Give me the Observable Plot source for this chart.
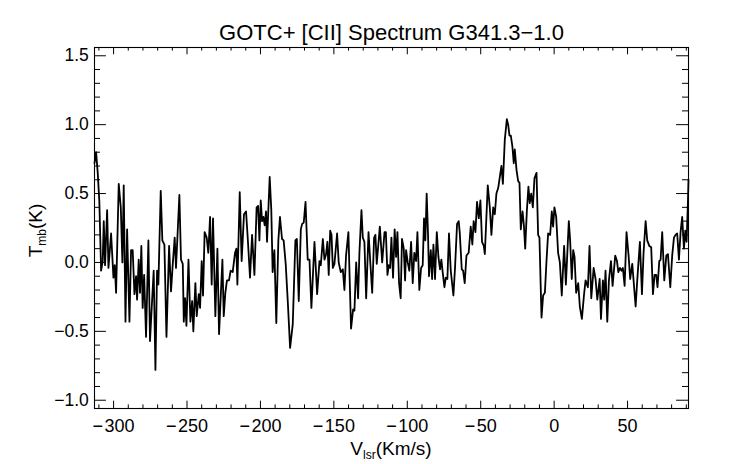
<!DOCTYPE html>
<html><head><meta charset="utf-8">
<script src="https://cdn.jsdelivr.net/npm/d3@7"></script>
<script src="https://cdn.jsdelivr.net/npm/@observablehq/plot@0.6"></script>
<style>body{margin:0;background:#fff}</style>
</head><body><div id="chart"></div>
<script>
const title = "GOTC+ [CII] Spectrum G341.3\u22121.0";

const velocity = [
-313.0,-311.9,-310.8,-309.7,-308.5,-307.4,-306.7,-305.8,-304.4,-303.5,-301.7,-300.1,-299.2,-298.3,-296.5,-295.1,-294.0,-293.1,-291.9,-290.8,
-289.2,-288.1,-287.0,-285.8,-284.7,-284.0,-282.9,-282.0,-281.1,-280.2,-279.2,-277.9,-276.3,-275.2,-273.8,-272.7,-271.5,-270.4,-269.5,-267.9,
-266.8,-265.4,-264.0,-262.2,-260.9,-259.7,-258.4,-257.5,-255.2,-254.1,-252.9,-252.2,-251.3,-250.4,-249.0,-247.7,-246.5,
-245.7,-244.3,-243.4,-242.0,-241.1,-240.0,-239.1,-238.0,-236.6,-235.5,-234.3,-233.2,-232.3,-230.7,-229.3,-228.2,-225.9,-225.0,-223.9,-222.8,
-221.4,-220.3,-218.9,-217.3,-216.4,-215.7,-214.1,-212.8,-211.2,-209.8,-208.5,-207.1,-205.7,-204.1,-202.6,-201.6,-200.7,-199.8,-198.9,-198.0,
-197.1,-196.2,-195.5,-193.7,-192.6,-191.7,-190.5,-189.2,-187.8,-186.7,-185.3,-184.2,-182.8,-181.4,-179.8,
-178.0,-176.2,-175.2,-173.9,-172.5,-171.6,-170.5,-169.3,-167.8,-166.6,-165.3,-163.2,-161.4,-159.8,-158.9,-157.5,-156.4,-155.3,-154.4,-153.5,
-152.5,-151.6,-150.7,-149.6,-147.8,-146.7,-145.3,-143.9,-142.8,-141.7,-140.1,-138.3,-136.9,-136.0,-134.8,-133.5,-132.6,-131.2,-130.3,-129.2,
-128.0,-126.4,-125.3,-123.9,-122.6,-121.7,-120.8,-118.7,-117.1,-115.5,-114.6,-113.5,
-112.6,-111.7,-110.8,-109.7,-108.6,-107.6,-106.7,-105.6,-104.5,-103.6,-102.4,-101.5,-100.8,-99.7,-98.6,-97.4,-96.3,-95.2,-94.0,-93.1,
-91.8,-90.6,-89.5,-88.6,-87.7,-86.8,-85.9,-85.2,-84.0,-83.1,-82.2,-81.1,-79.9,-78.8,-77.7,-76.8,-75.9,-74.7,-73.8,-72.7,
-71.6,-70.4,-68.6,-67.5,-66.1,-65.0,-64.3,-62.9,-62.0,-60.9,-59.7,-58.2,-56.8,-55.7,-54.8,-53.6,-52.5,-51.3,-50.2,-49.1,-47.9,-47.2,
-45.2,-43.8,-42.7,-41.5,-40.4,-39.3,-38.1,-37.0,-35.9,-34.9,-33.6,-32.2,-31.3,-30.4,-29.5,-28.4,-27.5,-26.8,-25.6,-24.5,
-23.6,-22.7,-21.5,-20.6,-19.7,-18.6,-17.5,-16.6,-15.6,-14.5,-13.4,-12.0,-10.9,-10.0,-8.6,-7.5,-6.3,-5.2,-4.1,-2.7,
-1.6,-0.7,0.2,1.4,2.7,3.9,5.2,6.8,8.0,10.0,10.9,12.0,13.0,13.9,15.0,16.4,17.5,18.9,
20.3,21.4,23.0,24.1,25.3,26.9,28.2,29.4,31.0,31.9,33.2,34.1,35.0,36.2,37.3,38.7,39.8,41.6,42.8,43.7,
44.8,45.9,46.8,48.0,49.3,50.7,51.8,53.2,54.1,55.5,56.6,58.4,59.8,60.9,62.3,63.4,64.8,66.1,67.3,68.4,
69.5,70.4,71.6,72.5,73.6,75.0,76.4,77.5,79.1,80.4,81.6,82.7,83.8,85.0,86.1,87.2,88.4,89.3,90.2,91.0,91.5
];

const tmb = [
0.72,0.80,0.65,0.44,-0.06,0.01,0.30,-0.02,0.38,-0.04,0.21,-0.11,-0.02,-0.22,0.57,0.40,0.00,0.56,-0.43,0.24,
-0.43,0.09,0.09,-0.23,-0.10,-0.27,0.02,-0.22,0.12,-0.33,-0.09,-0.54,0.16,-0.57,-0.28,-0.06,-0.78,-0.06,-0.16,0.52,
0.16,0.13,-0.54,0.12,-0.21,-0.01,0.18,-0.04,0.49,0.02,-0.01,-0.43,-0.26,-0.46,0.02,-0.43,-0.28,
-0.50,-0.15,-0.39,-0.23,-0.33,0.01,-0.24,0.22,0.18,0.07,0.33,-0.16,0.32,-0.39,0.10,-0.52,0.02,-0.39,-0.22,-0.13,
-0.13,-0.06,-0.07,0.07,0.10,-0.16,0.51,0.01,0.35,0.37,0.15,-0.11,0.20,-0.09,0.40,0.41,0.16,0.45,0.30,0.33,
0.27,0.37,0.15,0.62,0.38,-0.07,0.09,-0.44,0.16,0.33,0.17,0.16,-0.01,-0.28,-0.62,
-0.45,0.16,0.17,-0.28,0.24,0.28,0.29,0.44,0.02,0.02,-0.33,0.15,-0.23,0.01,-0.02,0.17,0.02,0.06,0.15,-0.09,
0.23,0.20,-0.04,-0.01,0.21,0.00,-0.07,-0.05,-0.20,0.05,0.22,-0.48,-0.34,-0.35,0.00,-0.26,0.07,0.38,0.18,0.15,
-0.26,0.22,0.02,-0.22,0.18,0.20,-0.01,0.26,0.00,0.22,0.22,-0.09,
-0.02,-0.04,0.18,-0.11,0.24,0.04,0.22,-0.15,-0.26,0.17,0.10,-0.13,0.09,0.00,-0.06,0.15,-0.15,0.07,0.01,0.22,
-0.20,-0.04,-0.02,0.32,0.16,0.50,0.21,-0.10,0.09,-0.12,0.13,-0.12,0.22,0.04,-0.05,0.02,-0.07,-0.18,-0.11,-0.12,
0.21,-0.06,-0.24,-0.04,0.28,0.30,0.22,-0.05,-0.06,-0.15,0.05,0.07,0.26,0.13,0.30,0.22,0.44,0.32,0.45,0.15,0.12,0.06,
0.56,0.40,0.20,0.40,0.35,0.50,0.54,0.62,0.70,0.57,0.89,1.04,1.00,0.92,0.92,0.84,0.72,0.82,0.67,0.59,
0.58,0.24,0.37,0.27,0.10,0.37,0.55,0.43,0.50,0.40,0.61,0.65,0.20,0.18,-0.40,-0.24,-0.22,0.01,0.21,0.20,
0.37,0.26,0.40,0.33,0.07,0.00,-0.24,0.12,-0.16,0.30,0.16,-0.12,0.09,0.04,-0.22,-0.15,-0.32,-0.41,
-0.24,-0.13,-0.18,0.12,-0.26,-0.04,-0.12,-0.27,-0.12,-0.41,-0.13,-0.27,-0.06,-0.43,-0.13,0.01,-0.17,0.05,0.01,-0.07,
-0.04,-0.06,-0.04,-0.17,0.22,0.05,-0.12,-0.01,-0.13,-0.32,-0.13,0.15,-0.23,0.07,0.30,0.16,0.12,0.11,-0.23,-0.09,
-0.09,-0.18,0.01,0.02,0.22,-0.13,0.05,0.06,-0.18,0.05,0.18,0.20,0.21,0.02,0.22,0.33,0.10,0.23,0.15,0.40,0.60
];

const xTicks = [-300,-250,-200,-150,-100,-50,0,50];
const xMinorTicks = [-310,-290,-280,-270,-260,-240,-230,-220,-210,-190,-180,-170,-160,-140,-130,-120,-110,-90,-80,-70,-60,-40,-30,-20,-10,10,20,30,40,60,70,80,90];
const yTicks = [-1.0,-0.5,0.0,0.5,1.0,1.5];
const yMinorTicks = [-0.9,-0.8,-0.7,-0.6,-0.4,-0.3,-0.2,-0.1,0.1,0.2,0.3,0.4,0.6,0.7,0.8,0.9,1.1,1.2,1.3,1.4];

const data = velocity.map((v, i) => ({v, t: tmb[i]}));
const fmtX = d => String(d).replace("-", "\u2212\u200A");
const fmtY = d => d.toFixed(1).replace("-", "\u2212");

const W = 742, H = 464, ML = 94, MR = 54, MT = 47, MB = 56;
const FW = W - ML - MR, FH = H - MT - MB;
const xMaj = 7.3, xMin = 3.6, yMaj = 11.9, yMin = 6;
const tickStyle = {stroke: "black", strokeWidth: 1};

const chart = Plot.plot({
  width: W, height: H,
  marginLeft: ML, marginRight: MR, marginTop: MT, marginBottom: MB,
  style: {fontFamily: "'Liberation Sans', Arial, sans-serif", fontSize: "17.5px", background: "white", color: "black"},
  x: {domain: [-313, 91.5], label: null},
  y: {domain: [-1.06, 1.56], label: null},
  marks: [
    Plot.axisX(xTicks, {anchor: "bottom", tickSize: 0, tickPadding: 11, tickFormat: fmtX, fontSize: 18, label: null}),
    Plot.axisY(yTicks, {anchor: "left", tickSize: 0, tickPadding: 5.7, tickFormat: fmtY, label: null}),
    // inward ticks on all four sides
    Plot.ruleX(xTicks, {x: d => d, insetTop: FH - xMaj, ...tickStyle}),
    Plot.ruleX(xTicks, {x: d => d, insetBottom: FH - xMaj, ...tickStyle}),
    Plot.ruleX(xMinorTicks, {x: d => d, insetTop: FH - xMin, ...tickStyle}),
    Plot.ruleX(xMinorTicks, {x: d => d, insetBottom: FH - xMin, ...tickStyle}),
    Plot.ruleY(yTicks, {y: d => d, insetRight: FW - yMaj, ...tickStyle}),
    Plot.ruleY(yTicks, {y: d => d, insetLeft: FW - yMaj, ...tickStyle}),
    Plot.ruleY(yMinorTicks, {y: d => d, insetRight: FW - yMin, ...tickStyle}),
    Plot.ruleY(yMinorTicks, {y: d => d, insetLeft: FW - yMin, ...tickStyle}),
    Plot.frame({stroke: "black", strokeWidth: 1.1}),
    Plot.line(data, {x: "v", y: "t", stroke: "black", strokeWidth: 1.8}),
    Plot.text([title], {frameAnchor: "top", lineAnchor: "middle", dy: -15, fontSize: 22, fill: "black"})
  ]
});

document.getElementById("chart").appendChild(chart);

const svg = d3.select(chart);
const font = "'Liberation Sans', Arial, sans-serif";
const yl = svg.append("text")
  .attr("transform", "translate(42,230.5) rotate(-90)")
  .attr("text-anchor", "middle")
  .attr("font-family", font).attr("font-size", 19).attr("fill", "black");
yl.append("tspan").text("T");
yl.append("tspan").attr("font-size", 12).attr("dy", 4).text("mb");
yl.append("tspan").attr("dy", -4).text("(K)");

const xl = svg.append("text")
  .attr("x", 391).attr("y", 455)
  .attr("text-anchor", "middle")
  .attr("font-family", font).attr("font-size", 19).attr("fill", "black");
xl.append("tspan").text("V");
xl.append("tspan").attr("font-size", 12).attr("dy", 4).text("lsr");
xl.append("tspan").attr("dy", -4).text("(Km/s)");
</script>
</body></html>
